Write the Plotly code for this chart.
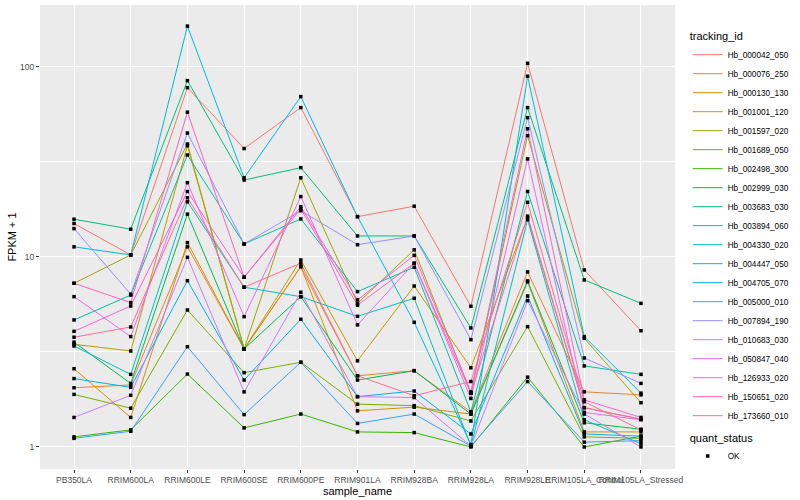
import plotly.graph_objects as go

samples = ["PB350LA", "RRIM600LA", "RRIM600LE", "RRIM600SE", "RRIM600PE", "RRIM901LA",
           "RRIM928BA", "RRIM928LA", "RRIM928LE", "RRIM105LA_Control", "RRIM105LA_Stressed"]

tracking_ids = ["Hb_000042_050", "Hb_000076_250", "Hb_000130_130", "Hb_001001_120", "Hb_001597_020",
                "Hb_001689_050", "Hb_002498_300", "Hb_002999_030", "Hb_003683_030", "Hb_003894_060",
                "Hb_004330_020", "Hb_004447_050", "Hb_004705_070", "Hb_005000_010", "Hb_007894_190",
                "Hb_010683_030", "Hb_050847_040", "Hb_126933_020", "Hb_150651_020", "Hb_173660_010"]

colors = ["#F8766D", "#EA8331", "#D89000", "#C09B00", "#A3A500", "#7CAE00", "#39B600", "#00BB4E",
          "#00BF7D", "#00C1A3", "#00BFC4", "#00BAE0", "#00B0F6", "#35A2FF", "#9590FF", "#C77CFF",
          "#E76BF3", "#FA62DB", "#FF62BC", "#FF6C91"]

# FPKM + 1 per sample (order of `samples`)
hb_000042_050 = [15.0, 10.25, 77.8, 37.2, 61.1, 16.3, 18.5, 5.50, 104.5, 8.54, 4.09]
hb_000076_250 = [2.05, 2.12, 11.3, 3.28, 8.89, 2.37, 2.52, 1.53, 8.34, 1.95, 1.88]
hb_000130_130 = [2.58, 1.43, 11.9, 3.28, 8.89, 1.55, 1.62, 1.49, 7.39, 1.20, 1.20]
hb_001001_120 = [3.47, 3.20, 38.5, 3.28, 9.64, 2.84, 7.03, 2.61, 16.1, 1.61, 1.40]
hb_001597_020 = [7.27, 10.25, 39.3, 3.28, 26.1, 5.70, 10.9, 1.92, 43.5, 3.73, 1.71]
hb_001689_050 = [1.89, 1.60, 5.26, 2.46, 2.79, 1.68, 1.65, 1.37, 4.30, 1.13, 1.11]
hb_002498_300 = [1.13, 1.23, 2.42, 1.26, 1.49, 1.20, 1.19, 1.00, 2.33, 1.00, 1.14]
hb_002999_030 = [3.56, 2.16, 16.8, 3.28, 6.18, 2.25, 2.52, 1.49, 7.48, 1.34, 1.24]
hb_003683_030 = [15.8, 14.0, 84.7, 25.4, 29.5, 12.9, 12.9, 4.23, 61.1, 7.57, 5.70]
hb_003894_060 = [4.66, 6.30, 34.4, 11.7, 15.85, 6.57, 8.83, 1.53, 22.1, 2.67, 2.41]
hb_004330_020 = [3.40, 2.41, 19.5, 6.93, 6.18, 4.87, 6.06, 1.01, 15.7, 1.39, 1.04]
hb_004447_050 = [11.3, 10.25, 164.0, 26.1, 69.8, 16.3, 4.53, 1.03, 89.4, 3.81, 1.92]
hb_004705_070 = [2.29, 2.06, 7.50, 2.25, 4.70, 1.84, 1.97, 1.17, 6.23, 1.17, 1.14]
hb_005000_010 = [1.11, 1.21, 3.37, 1.48, 2.79, 1.33, 1.49, 1.01, 2.21, 1.06, 1.08]
hb_007894_190 = [14.1, 6.37, 44.9, 11.7, 17.5, 11.6, 12.9, 3.67, 54.1, 2.94, 2.16]
hb_010683_030 = [1.43, 1.87, 9.96, 1.95, 6.52, 1.84, 1.82, 1.01, 5.89, 1.49, 1.00]
hb_050847_040 = [6.18, 3.81, 24.6, 4.85, 20.8, 4.39, 9.27, 1.80, 32.8, 1.52, 1.39]
hb_126933_020 = [4.06, 5.52, 22.1, 7.82, 18.4, 5.94, 10.2, 1.95, 47.3, 1.77, 1.43]
hb_150651_020 = [7.27, 5.75, 57.8, 7.82, 17.9, 5.57, 9.27, 1.92, 16.4, 1.61, 1.40]
hb_173660_010 = [3.78, 4.28, 20.5, 6.93, 9.27, 2.37, 1.86, 2.21, 19.4, 1.73, 1.23]

series = [hb_000042_050, hb_000076_250, hb_000130_130, hb_001001_120, hb_001597_020,
          hb_001689_050, hb_002498_300, hb_002999_030, hb_003683_030, hb_003894_060,
          hb_004330_020, hb_004447_050, hb_004705_070, hb_005000_010, hb_007894_190,
          hb_010683_030, hb_050847_040, hb_126933_020, hb_150651_020, hb_173660_010]

y_ticks = [1, 10, 100]
y_tick_labels = ["1", "10", "100"]

FONT = "Liberation Sans, Arial, sans-serif"

fig = go.Figure()
for name, col, vals in zip(tracking_ids, colors, series):
    fig.add_trace(go.Scatter(x=samples, y=vals, mode="lines", name=name,
                             line=dict(color=col, width=1), legend="legend"))

all_x = [s for vals in series for s in samples]
all_y = [v for vals in series for v in vals]
fig.add_trace(go.Scatter(x=all_x, y=all_y, mode="markers", name="OK",
                         marker=dict(color="black", symbol="square", size=3.5),
                         legend="legend2"))

fig.update_layout(
    width=800, height=500,
    margin=dict(l=40, r=116, t=5, b=31),
    paper_bgcolor="white", plot_bgcolor="#EBEBEB",
    font=dict(family=FONT, size=8.2, color="black"),
    xaxis=dict(type="category", categoryorder="array", categoryarray=samples,
               range=[-0.6, 10.6], showgrid=True, gridcolor="white", gridwidth=1.1,
               zeroline=False, ticks="outside", ticklen=3, tickcolor="#333333", tickwidth=1,
               tickangle=0, tickfont=dict(size=8.5, color="#4D4D4D", family=FONT),
               title=dict(text="sample_name", font=dict(size=11, family=FONT), standoff=1)),
    yaxis=dict(type="log", range=[-0.116, 2.326], tickvals=y_ticks, ticktext=y_tick_labels,
               showgrid=True, gridcolor="white", gridwidth=1.1, zeroline=False,
               ticks="outside", ticklen=3, tickcolor="#333333", tickwidth=1,
               tickfont=dict(size=8.5, color="#4D4D4D", family=FONT),
               minor=dict(tickmode="array", tickvals=[3.1623, 31.623], showgrid=True,
                          gridcolor="white", gridwidth=0.55, ticks=""),
               title=dict(text="FPKM + 1", font=dict(size=11, family=FONT), standoff=1)),
    legend=dict(title=dict(text="tracking_id", font=dict(size=11, family=FONT)),
                x=1.02, xanchor="left", y=0.955, yanchor="top",
                font=dict(size=8.2, family=FONT), bgcolor="rgba(0,0,0,0)",
                tracegroupgap=0),
    legend2=dict(title=dict(text="quant_status", font=dict(size=11, family=FONT)),
                 x=1.02, xanchor="left", y=0.09, yanchor="top",
                 font=dict(size=8.2, family=FONT), bgcolor="rgba(0,0,0,0)"),
)

fig.write_html("out.html", config={"displayModeBar": False},
               post_script="document.body.style.margin='0px';document.body.style.overflow='hidden';")
